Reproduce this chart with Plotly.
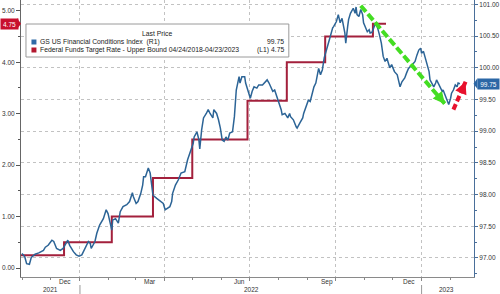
import plotly.graph_objects as go

# ---------------- data ----------------
fci_dates = [
    "2021-10-31", "2021-11-03", "2021-11-05", "2021-11-08", "2021-11-10", "2021-11-14", "2021-11-18",
    "2021-11-23", "2021-11-25", "2021-11-28", "2021-12-02", "2021-12-04", "2021-12-07", "2021-12-11",
    "2021-12-14", "2021-12-16", "2021-12-19", "2021-12-21", "2021-12-25", "2021-12-28", "2021-12-31",
    "2022-01-03", "2022-01-06", "2022-01-10", "2022-01-12", "2022-01-13", "2022-01-17", "2022-01-19",
    "2022-01-22", "2022-01-26", "2022-01-29", "2022-01-31", "2022-02-02", "2022-02-04", "2022-02-05",
    "2022-02-08", "2022-02-11", "2022-02-13", "2022-02-16", "2022-02-20", "2022-02-23", "2022-02-26",
    "2022-02-27", "2022-03-02", "2022-03-04", "2022-03-07", "2022-03-09", "2022-03-10", "2022-03-12",
    "2022-03-15", "2022-03-17", "2022-03-20", "2022-03-24", "2022-03-27", "2022-03-31", "2022-04-02",
    "2022-04-04", "2022-04-07", "2022-04-09", "2022-04-10", "2022-04-13", "2022-04-16", "2022-04-19",
    "2022-04-23", "2022-04-26", "2022-04-29", "2022-05-02", "2022-05-03", "2022-05-06", "2022-05-08",
    "2022-05-09", "2022-05-11", "2022-05-13", "2022-05-16", "2022-05-18", "2022-05-20", "2022-05-23",
    "2022-05-24", "2022-05-27", "2022-05-29", "2022-05-31", "2022-06-02", "2022-06-04", "2022-06-06",
    "2022-06-08", "2022-06-10", "2022-06-13", "2022-06-15", "2022-06-17", "2022-06-20", "2022-06-21",
    "2022-06-23", "2022-06-26", "2022-06-27", "2022-06-30", "2022-07-02", "2022-07-04", "2022-07-06",
    "2022-07-09", "2022-07-11", "2022-07-15", "2022-07-17", "2022-07-20", "2022-07-22", "2022-07-24",
    "2022-07-26", "2022-07-28", "2022-07-30", "2022-08-02", "2022-08-04", "2022-08-05", "2022-08-08",
    "2022-08-11", "2022-08-13", "2022-08-14", "2022-08-17", "2022-08-20", "2022-08-21", "2022-08-24",
    "2022-08-27", "2022-08-28", "2022-08-31", "2022-09-02", "2022-09-04", "2022-09-06", "2022-09-08",
    "2022-09-10", "2022-09-12", "2022-09-13", "2022-09-15", "2022-09-17", "2022-09-19", "2022-09-22",
    "2022-09-25", "2022-09-28", "2022-09-29", "2022-10-02", "2022-10-04", "2022-10-06", "2022-10-08",
    "2022-10-11", "2022-10-12", "2022-10-14", "2022-10-15", "2022-10-17", "2022-10-20", "2022-10-22",
    "2022-10-23", "2022-10-24", "2022-10-26", "2022-10-28", "2022-10-30", "2022-10-31", "2022-11-02",
    "2022-11-04", "2022-11-06", "2022-11-07", "2022-11-09", "2022-11-11", "2022-11-13", "2022-11-15",
    "2022-11-16", "2022-11-17", "2022-11-19", "2022-11-21", "2022-11-23", "2022-11-25", "2022-11-26",
    "2022-11-28", "2022-11-30", "2022-12-02", "2022-12-03", "2022-12-06", "2022-12-08", "2022-12-09",
    "2022-12-11", "2022-12-14", "2022-12-16", "2022-12-18", "2022-12-22", "2022-12-25", "2022-12-27",
    "2022-12-29", "2022-12-31", "2023-01-01", "2023-01-03", "2023-01-05", "2023-01-07", "2023-01-09",
    "2023-01-10", "2023-01-12", "2023-01-14", "2023-01-16", "2023-01-17", "2023-01-19", "2023-01-21",
    "2023-01-23", "2023-01-24", "2023-01-26", "2023-01-29", "2023-01-30", "2023-02-01", "2023-02-02",
    "2023-02-04", "2023-02-06", "2023-02-08", "2023-02-09", "2023-02-11",
]
fci_values = [
    97.07, 97.02, 96.91, 96.90, 97.01, 97.06, 97.08,
    97.12, 97.17, 97.20, 97.28, 97.26, 97.15, 97.12,
    97.15, 97.20, 97.28, 97.20, 97.10, 97.05, 97.03,
    97.05, 97.15, 97.26, 97.23, 97.15, 97.26, 97.39,
    97.52, 97.62, 97.76, 97.70, 97.57, 97.44, 97.60,
    97.62, 97.55, 97.73, 97.81, 97.84, 97.89, 98.03,
    97.97, 97.86, 97.89, 98.02, 98.15, 98.28, 98.28,
    98.42, 98.34, 97.99, 97.94, 97.91, 97.86, 97.76,
    97.78, 97.81, 97.89, 98.02, 98.15, 98.23, 98.34,
    98.36, 98.55, 98.70, 98.81, 98.91, 98.99, 98.87,
    98.72, 99.02, 99.21, 99.28, 99.34, 99.28, 99.21,
    99.34, 99.28, 99.18, 99.05, 98.86, 98.84, 98.91,
    98.86, 98.97, 98.99, 99.23, 99.65, 99.86, 99.76,
    99.86, 99.86, 99.76, 99.63, 99.52, 99.63, 99.70,
    99.68, 99.73, 99.73, 99.76, 99.81, 99.76, 99.70,
    99.63, 99.65, 99.57, 99.44, 99.34, 99.26, 99.28,
    99.21, 99.28, 99.23, 99.18, 99.07, 99.05, 99.13,
    99.21, 99.28, 99.39, 99.49, 99.47, 99.60, 99.70,
    99.76, 99.92, 99.99, 99.89, 99.97, 100.16, 100.34,
    100.47, 100.63, 100.65, 100.73, 100.84, 100.71, 100.78,
    100.55, 100.39, 100.65, 100.76, 100.86, 100.94, 100.86,
    100.96, 100.84, 100.81, 100.92, 100.84, 100.71, 100.63,
    100.57, 100.60, 100.55, 100.56, 100.65, 100.71, 100.63,
    100.55, 100.52, 100.39, 100.18, 100.10, 100.15, 100.10,
    100.00, 100.05, 99.97, 99.94, 99.89, 99.73, 99.70,
    99.78, 99.84, 99.92, 99.99, 100.05, 100.10, 100.20,
    100.28, 100.31, 100.23, 100.26, 100.15, 100.05, 99.94,
    99.81, 99.76, 99.70, 99.76, 99.81, 99.75, 99.68,
    99.63, 99.65, 99.57, 99.47, 99.42, 99.52, 99.60,
    99.65, 99.73, 99.70, 99.76, 99.75,
]

fed_dates = ["2021-10-30", "2021-12-15", "2022-02-04", "2022-03-20", "2022-05-01",
             "2022-06-29", "2022-08-10", "2022-09-20", "2022-11-10", "2022-11-24"]
fed_values = [0.25, 0.50, 1.00, 1.75, 2.50, 3.25, 4.00, 4.50, 4.75, 4.75]

month_labels = ["Dec", "Mar", "Jun", "Sep", "Dec"]
month_label_dates = ["2021-12-16", "2022-03-17", "2022-06-20", "2022-09-22", "2022-12-19"]
year_labels = ["2021", "2022", "2023"]
year_label_dates = ["2021-11-30", "2022-07-03", "2023-01-28"]
year_breaks = ["2022-01-01", "2023-01-01"]

fci_name = "GS US Financial Conditions Index  (R1)"
fed_name = "Federal Funds Target Rate - Upper Bound 04/24/2018-04/23/2023"
fci_last = "99.75"
fed_last = "4.75"

green_arrow = (("2022-10-28", 100.98), ("2023-01-26", 99.43))
red_arrow = (("2023-02-04", 99.34), ("2023-02-17", 99.78))

# ---------------- styling ----------------
W, H = 500, 294
L, R, T, B = 21, 24, 0, 17
PW, PH = W - L - R, H - T - B
FONT = "Liberation Sans, Arial, sans-serif"
BLUE = "#2c6496"
MAROON = "#a3203c"
TXT = "#333333"
GRID = "#c2c2c2"


def pxx(x):
    return (x - L) / PW


def pxy(y):
    return 1 - (y - T) / PH


fig = go.Figure()
fig.add_trace(go.Scatter(x=fed_dates, y=fed_values, mode="lines", line_shape="hv",
                         line=dict(color=MAROON, width=2), yaxis="y", showlegend=False))
fig.add_trace(go.Scatter(x=fci_dates, y=fci_values, mode="lines",
                         line=dict(color=BLUE, width=1.5), yaxis="y2", showlegend=False))

shapes = []
annotations = []

# legend box
shapes.append(dict(type="rect", xref="paper", yref="paper", x0=pxx(26), x1=pxx(290),
                   y0=pxy(57), y1=pxy(24), line=dict(color="#9a9a9a", width=1),
                   fillcolor="white", layer="above"))
shapes.append(dict(type="rect", xref="paper", yref="paper", x0=pxx(31.5), x1=pxx(36.5),
                   y0=pxy(44.5), y1=pxy(39.5), line=dict(width=0), fillcolor="#2f6aa6", layer="above"))
shapes.append(dict(type="rect", xref="paper", yref="paper", x0=pxx(31.5), x1=pxx(36.5),
                   y0=pxy(52.5), y1=pxy(47.5), line=dict(width=0), fillcolor="#b3182f", layer="above"))
lf = dict(family=FONT, size=6.8, color="#222")
annotations.append(dict(text="Last Price", xref="paper", yref="paper", x=pxx(158), y=pxy(33),
                        xanchor="center", yanchor="middle", showarrow=False, font=lf))
annotations.append(dict(text=fci_name, xref="paper", yref="paper", x=pxx(38), y=pxy(42),
                        xanchor="left", yanchor="middle", showarrow=False, font=lf))
annotations.append(dict(text=fed_name, xref="paper", yref="paper", x=pxx(38), y=pxy(50),
                        xanchor="left", yanchor="middle", showarrow=False, font=lf))
annotations.append(dict(text=fci_last, xref="paper", yref="paper", x=pxx(287), y=pxy(42),
                        xanchor="right", yanchor="middle", showarrow=False, font=lf))
annotations.append(dict(text="(L1) " + fed_last, xref="paper", yref="paper", x=pxx(287), y=pxy(50),
                        xanchor="right", yanchor="middle", showarrow=False, font=lf))

# last-price tags
annotations.append(dict(text=fed_last, xref="paper", yref="y", x=pxx(0), y=fed_values[-1],
                        xanchor="left", yanchor="middle", showarrow=False, bgcolor="#c8102e",
                        borderpad=1.5, width=14, font=dict(family=FONT, size=6.5, color="white")))
shapes.append(dict(type="path", xref="paper", yref="y",
                   path=f"M {pxx(17)},{fed_values[-1] + 0.11} L {pxx(21)},{fed_values[-1]} L {pxx(17)},{fed_values[-1] - 0.11} Z",
                   fillcolor="#c8102e", line=dict(width=0), layer="above"))
annotations.append(dict(text=fci_last, xref="paper", yref="y2", x=pxx(479), y=fci_values[-1],
                        xanchor="left", yanchor="middle", showarrow=False, bgcolor="#2b67a6",
                        borderpad=1.5, width=18, font=dict(family=FONT, size=6.5, color="white")))
shapes.append(dict(type="path", xref="paper", yref="y2",
                   path=f"M {pxx(479.5)},{fci_values[-1] + 0.085} L {pxx(475.5)},{fci_values[-1]} L {pxx(479.5)},{fci_values[-1] - 0.085} Z",
                   fillcolor="#2b67a6", line=dict(width=0), layer="above"))

# x labels
af = dict(family=FONT, size=6.5, color=TXT)
for lab, d in zip(month_labels, month_label_dates):
    annotations.append(dict(text=lab, xref="x", yref="paper", x=d, y=pxy(281.5),
                            xanchor="center", yanchor="middle", showarrow=False, font=af))
for lab, d in zip(year_labels, year_label_dates):
    annotations.append(dict(text=lab, xref="x", yref="paper", x=d, y=pxy(289.5),
                            xanchor="center", yanchor="middle", showarrow=False, font=af))
for d in year_breaks:
    shapes.append(dict(type="line", xref="x", yref="paper", x0=d, x1=d, y0=pxy(285), y1=pxy(294),
                       line=dict(color="#999", width=1)))

# trend arrows
for (p0, p1), col, dash, ax, ay in [(green_arrow, "#44dd22", "8px,3px", -5, -6),
                                    (red_arrow, "#e8112d", "6px,3px", -3, 7)]:
    shapes.append(dict(type="line", xref="x", yref="y2", x0=p0[0], y0=p0[1], x1=p1[0], y1=p1[1],
                       line=dict(color=col, width=4, dash=dash), layer="above"))
    annotations.append(dict(text="", xref="x", yref="y2", x=p1[0], y=p1[1], showarrow=True,
                            arrowhead=2, arrowsize=0.6, arrowwidth=4, arrowcolor=col,
                            ax=ax, ay=ay, standoff=0))

tf = dict(family=FONT, size=6.5, color=TXT)
fig.update_layout(
    width=W, height=H, margin=dict(l=L, r=R, t=T, b=B),
    paper_bgcolor="white", plot_bgcolor="white", showlegend=False,
    shapes=shapes, annotations=annotations,
    xaxis=dict(type="date", range=["2021-10-30", "2023-02-26"], showticklabels=False,
               ticks="outside", ticklen=3, tickcolor="#888", dtick="M3", tick0="2022-01-01",
               showgrid=True, gridcolor=GRID, griddash="dot", gridwidth=1,
               minor=dict(dtick="M1", tick0="2021-11-01", ticks="outside", ticklen=2,
                          tickcolor="#888", showgrid=False),
               showline=True, linecolor="#8a8a8a", zeroline=False),
    yaxis=dict(range=[-0.175, 5.21], dtick=1, tick0=0, tickformat=".2f", side="left",
               ticks="outside", ticklen=4, tickcolor="#555",
               minor=dict(dtick=0.5, ticks="outside", ticklen=2, tickcolor="#555", showgrid=False),
               showgrid=False, zeroline=False, showline=True, linecolor="#666", tickfont=tf),
    yaxis2=dict(range=[96.70, 101.07], dtick=0.5, tick0=97, tickformat=".2f", side="right",
                overlaying="y", ticks="outside", ticklen=3, tickcolor="#4a6f9a",
                minor=dict(dtick=0.25, ticks="outside", ticklen=2, tickcolor="#4a6f9a", showgrid=False),
                showgrid=True, gridcolor=GRID, griddash="dot", gridwidth=1,
                zeroline=False, showline=True, linecolor="#4a6f9a", tickfont=tf),
)

fig.write_html("out.html")
